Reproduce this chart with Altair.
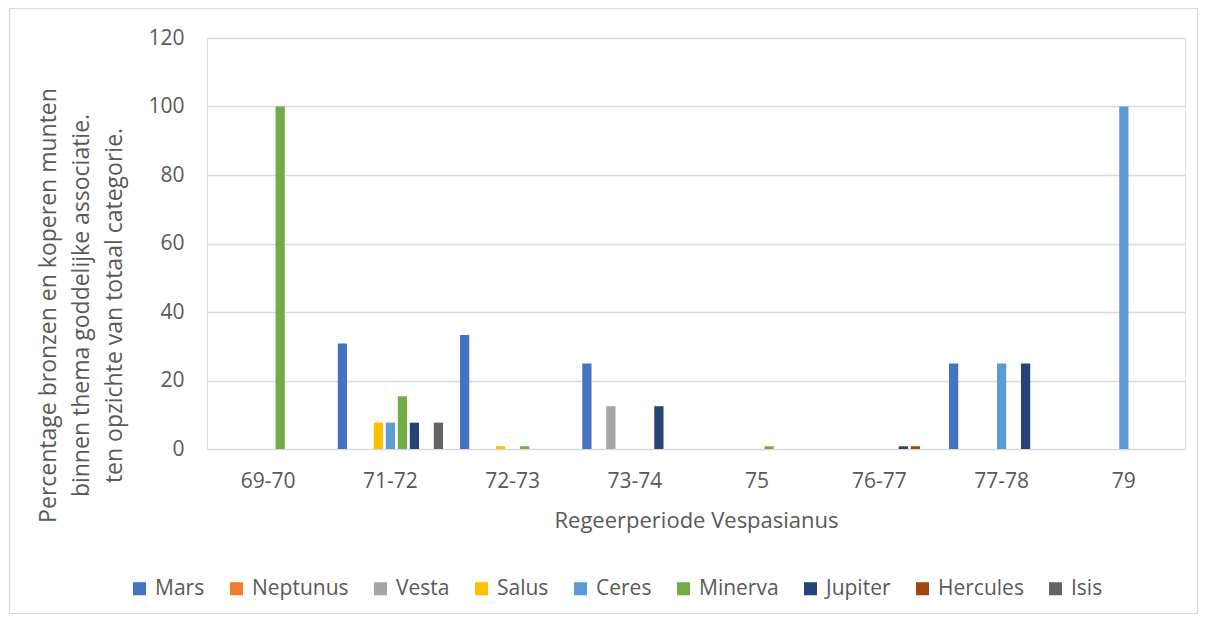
import altair as alt
import pandas as pd

categories = ["69-70", "71-72", "72-73", "73-74", "75", "76-77", "77-78", "79"]
series = ["Mars", "Neptunus", "Vesta", "Salus", "Ceres", "Minerva", "Jupiter", "Hercules", "Isis"]
colors = ["#4472C4", "#ED7D31", "#A5A5A5", "#FFC000", "#5B9BD5", "#70AD47", "#264478", "#9E480E", "#636363"]

mars     = [0, 30.8, 33.3, 25, 0, 0, 25, 0]
neptunus = [0, 0, 0, 0, 0, 0, 0, 0]
vesta    = [0, 0, 0, 12.5, 0, 0, 0, 0]
salus    = [0, 7.7, 0.8, 0, 0, 0, 0, 0]
ceres    = [0, 7.7, 0, 0, 0, 0, 25, 100]
minerva  = [100, 15.4, 0.8, 0, 0.8, 0, 0, 0]
jupiter  = [0, 7.7, 0, 12.5, 0, 0.8, 25, 0]
hercules = [0, 0, 0, 0, 0, 0.8, 0, 0]
isis     = [0, 7.7, 0, 0, 0, 0, 0, 0]

values = [mars, neptunus, vesta, salus, ceres, minerva, jupiter, hercules, isis]
rows = []
for s, vals in zip(series, values):
    for c, v in zip(categories, vals):
        rows.append({"periode": c, "god": s, "pct": v})
df = pd.DataFrame(rows)

FONT = "Open Sans"
GRAY = "#595959"
W, H = 978, 411

bars = alt.Chart(df).mark_bar().encode(
    x=alt.X("periode:N", sort=categories,
            scale=alt.Scale(paddingInner=0.139, paddingOuter=0.07),
            axis=alt.Axis(title="Regeerperiode Vespasianus", labelAngle=0, ticks=False,
                          domain=False, labelPadding=21, labelFontSize=21, labelColor=GRAY,
                          labelFont=FONT, titleFont=FONT, titleFontSize=22, titleColor=GRAY,
                          titleFontWeight="normal", titleY=71, titleBaseline="middle")),
    xOffset=alt.XOffset("god:N", sort=series,
                        scale=alt.Scale(domain=series, paddingInner=0.23, paddingOuter=0)),
    y=alt.Y("pct:Q", scale=alt.Scale(domain=[0, 120], nice=False),
            axis=alt.Axis(values=[0, 20, 40, 60, 80, 100, 120], ticks=False, domain=False,
                          gridColor="#d9d9d9", gridWidth=1.3, labelPadding=23,
                          labelFontSize=21, labelColor=GRAY, labelFont=FONT,
                          title=["Percentage bronzen en koperen munten",
                                 "binnen thema goddelijke associatie.",
                                 "ten opzichte van totaal categorie."],
                          titleFont=FONT, titleFontSize=23, titleColor=GRAY,
                          titleFontWeight="normal", titleLineHeight=33,
                          titleAngle=270, titleBaseline="alphabetic", titleAlign="center",
                          titleX=-152, titleY=267)),
    color=alt.Color("god:N", sort=series,
                    scale=alt.Scale(domain=series, range=colors),
                    legend=alt.Legend(title=None, orient="none", direction="horizontal",
                                      columns=9, legendX=-78, legendY=540,
                                      symbolType="square", symbolSize=170,
                                      symbolStrokeWidth=0, labelFont=FONT,
                                      labelFontSize=21, labelColor=GRAY,
                                      labelOffset=5, columnPadding=21)),
)

border = alt.Chart(alt.Data(values=[{"a": 1}])).mark_rect(
    fill=None, stroke="#d9d9d9", strokeWidth=1.2
).encode(
    x=alt.value(-197.5), x2=alt.value(990.5),
    y=alt.value(-29.5), y2=alt.value(575.5),
)

chart = alt.layer(border, bars).properties(
    width=W, height=H,
    padding={"left": 199, "top": 30, "right": 15, "bottom": 166},
    autosize=alt.AutoSizeParams(type="none"),
).configure_view(stroke=None).configure(background="white")

chart.save("out.html", embed_options={"renderer": "svg", "actions": False})
